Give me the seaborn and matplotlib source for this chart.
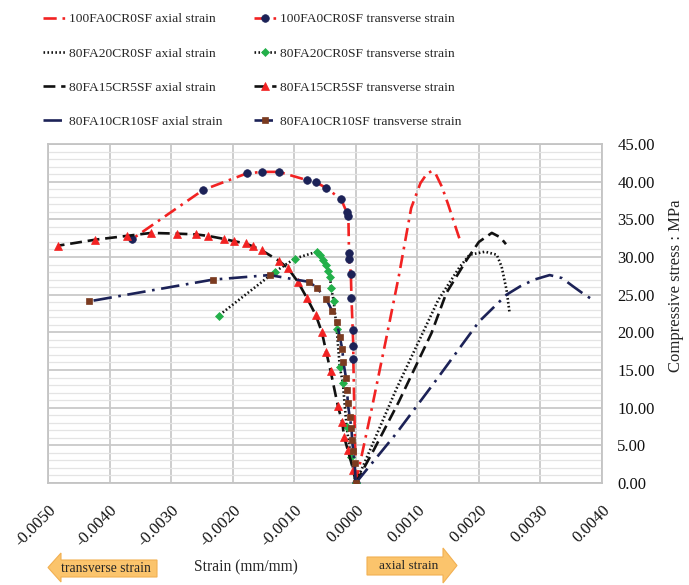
import numpy as np
import pandas as pd
import seaborn as sns
import matplotlib
matplotlib.use("Agg")
import matplotlib.pyplot as plt
from matplotlib.patches import Polygon
from matplotlib.lines import Line2D
from matplotlib.ticker import MultipleLocator, FormatStrFormatter

# ---- stress-strain data (strain in mm/mm, stress in MPa) ----
fa100_axial_strain = [0.0, 0.00025, 0.0005, 0.0007, 0.0009, 0.00105, 0.00115, 0.00123, 0.0013, 0.0014, 0.0015, 0.0016, 0.00169]
fa100_axial_stress = [0.0, 9.5, 19.4, 27.5, 36.5, 39.8, 41.0, 41.4, 41.0, 39.3, 37.0, 34.5, 32.3]

fa100_trans_strain = [0.0, -0.00004, -0.00004, -0.00005, -0.00007, -0.00008, -0.00011, -0.00011, -0.00012, -0.00015, -0.00024, -0.00049, -0.00064, -0.00079, -0.00125, -0.00152, -0.00177, -0.00248, -0.00363]
fa100_trans_stress = [0.0, 16.5, 18.2, 20.3, 24.6, 27.8, 29.7, 30.5, 35.4, 36.0, 37.7, 39.2, 39.9, 40.2, 41.3, 41.3, 41.1, 38.9, 32.4]

fa80cr20_axial_strain = [0.0, 0.00066, 0.00134, 0.00169, 0.00185, 0.0021, 0.00229, 0.00237, 0.00245, 0.0025]
fa80cr20_axial_stress = [0.0, 12.5, 24.3, 28.7, 30.3, 30.7, 30.3, 28.7, 25.6, 22.5]

fa80cr20_trans_strain = [0.0, -0.00008, -0.00015, -0.00021, -0.00026, -0.00031, -0.00036, -0.0004, -0.00042, -0.00045, -0.00049, -0.00053, -0.00058, -0.00063, -0.00099, -0.00132, -0.00223]
fa80cr20_trans_stress = [0.0, 3.5, 7.5, 13.3, 15.4, 20.5, 24.2, 25.9, 27.4, 28.2, 29.0, 29.6, 30.3, 30.7, 29.8, 28.0, 22.2]

fa80cr15_axial_strain = [0.0, 0.0003, 0.0007, 0.00123, 0.00147, 0.0018, 0.002, 0.00221, 0.00235, 0.00244]
fa80cr15_axial_stress = [0.0, 4.5, 10.8, 19.9, 25.2, 29.6, 32.0, 33.2, 32.6, 31.7]

fa80cr15_trans_strain = [0.0, -0.00004, -0.00013, -0.00019, -0.00022, -0.00029, -0.00041, -0.00048, -0.00055, -0.00065, -0.00079, -0.00094, -0.0011, -0.00125, -0.00153, -0.00167, -0.00179, -0.00198, -0.00214, -0.0024, -0.0026, -0.0029, -0.00332, -0.00372, -0.00423, -0.00484]
fa80cr15_trans_stress = [0.0, 1.7, 4.4, 6.1, 8.1, 10.2, 14.9, 17.4, 20.0, 22.3, 24.5, 26.7, 28.5, 29.5, 30.9, 31.4, 31.8, 32.1, 32.4, 32.8, 33.0, 33.1, 33.2, 32.8, 32.3, 31.5]

fa80cr10_axial_strain = [0.0, 0.00066, 0.00131, 0.002, 0.00245, 0.00267, 0.0029, 0.00315, 0.00335, 0.00353, 0.0037, 0.00389]
fa80cr10_axial_stress = [0.0, 6.6, 13.7, 21.4, 25.0, 26.1, 27.0, 27.6, 27.2, 26.1, 25.1, 24.1]

fa80cr10_trans_strain = [0.0, -0.00002, -0.00004, -0.00006, -0.00007, -0.0001, -0.00013, -0.00014, -0.00016, -0.0002, -0.00022, -0.00026, -0.00031, -0.00038, -0.00048, -0.00063, -0.00076, -0.0014, -0.00232, -0.00434]
fa80cr10_trans_stress = [0.0, 2.7, 4.2, 5.7, 7.3, 8.8, 10.6, 12.4, 14.0, 16.0, 17.8, 19.4, 21.4, 22.8, 24.4, 25.9, 26.7, 27.6, 27.0, 24.1]

x_ticks = [-0.005, -0.004, -0.003, -0.002, -0.001, 0.0, 0.001, 0.002, 0.003, 0.004]
y_ticks = [0, 5, 10, 15, 20, 25, 30, 35, 40, 45]

RED = "#f22222"
NAVY = "#1c2257"
GREEN = "#23b04a"
BROWN = "#7b3b20"
BLACK = "#111111"

dash_dot = (0, (5, 2.2, 1, 2.2))
dashed = (0, (4.5, 2.2))
dotted = (0, (0.6, 0.9))
long_dash_dot = (0, (7, 2.5, 1, 2.5))

series = [
    ("100FA0CR0SF axial strain", fa100_axial_strain, fa100_axial_stress, RED, dash_dot, None, None),
    ("80FA20CR0SF axial strain", fa80cr20_axial_strain, fa80cr20_axial_stress, BLACK, dotted, None, None),
    ("80FA15CR5SF axial strain", fa80cr15_axial_strain, fa80cr15_axial_stress, BLACK, dashed, None, None),
    ("80FA10CR10SF axial strain", fa80cr10_axial_strain, fa80cr10_axial_stress, NAVY, long_dash_dot, None, None),
    ("100FA0CR0SF transverse strain", fa100_trans_strain, fa100_trans_stress, RED, dash_dot, "o", NAVY),
    ("80FA20CR0SF transverse strain", fa80cr20_trans_strain, fa80cr20_trans_stress, BLACK, dotted, "D", GREEN),
    ("80FA15CR5SF transverse strain", fa80cr15_trans_strain, fa80cr15_trans_stress, BLACK, dashed, "^", RED),
    ("80FA10CR10SF transverse strain", fa80cr10_trans_strain, fa80cr10_trans_stress, NAVY, long_dash_dot, "s", BROWN),
]
marker_sizes = {"o": 5.5, "D": 3.8, "^": 5.2, "s": 5.0}

sns.set_theme(style="white")
plt.rcParams["font.family"] = ["Liberation Serif", "DejaVu Serif"]

W, H = 689, 585
fig = plt.figure(figsize=(W / 100, H / 100), dpi=100)
ax = fig.add_axes([48 / W, 1 - 483 / H, (602 - 48) / W, (483 - 144) / H])

handles = []
for label, xs, ys, color, ls, marker, mcolor in series:
    df = pd.DataFrame({"strain": xs, "stress": ys})
    kw = dict(color=color, linestyle=ls, linewidth=1.9)
    if marker:
        kw.update(marker=marker, markersize=marker_sizes[marker],
                  markerfacecolor=mcolor, markeredgecolor=mcolor, markeredgewidth=0.5)
    sns.lineplot(data=df, x="strain", y="stress", sort=False, estimator=None,
                 ax=ax, legend=False, zorder=3, **kw)
    handles.append(Line2D([], [], label=label, **kw))

ax.set_xlim(-0.005, 0.004)
ax.set_ylim(0, 45)
ax.set_xticks(x_ticks)
ax.set_yticks(y_ticks)
ax.yaxis.set_minor_locator(MultipleLocator(1))
ax.xaxis.set_major_formatter(FormatStrFormatter("%.4f"))
ax.yaxis.set_major_formatter(FormatStrFormatter("%.2f"))
ax.yaxis.tick_right()
ax.tick_params(axis="both", which="both", length=0, labelsize=12, colors="#111111")
ax.tick_params(axis="y", pad=11)
ax.tick_params(axis="x", pad=14)
for lab in ax.get_xticklabels():
    lab.set_rotation(45)
    lab.set_ha("right")
    lab.set_va("top")
    lab.set_rotation_mode("anchor")

ax.grid(True, which="major", axis="both", color="#c9c9c9", linewidth=1.3)
ax.grid(True, which="minor", axis="y", color="#e4e4e4", linewidth=0.9)
ax.set_axisbelow(True)
for sp in ax.spines.values():
    sp.set_color("#c4c4c4")
    sp.set_linewidth(1.3)
ax.set_xlabel("")
ax.set_ylabel("")

fig.text(676 / W, 1 - 286 / H, "Compressive stress : MPa", rotation=90,
         ha="center", va="center", fontsize=12)
fig.text(246 / W, 1 - 567 / H, "Strain (mm/mm)", ha="center", va="center", fontsize=11.2)

fig.legend(handles=handles, ncol=2, loc="upper left", frameon=False,
           bbox_to_anchor=(43 / W, 1 - 13 / H), fontsize=9.7, borderpad=0, borderaxespad=0,
           handlelength=1.6, handletextpad=0.3, columnspacing=2.4, labelspacing=1.62)


def fig_poly(pts, **kw):
    xy = [(px / W, 1 - py / H) for px, py in pts]
    fig.patches.append(Polygon(xy, closed=True, transform=fig.transFigure, **kw))


arrow_face = "#fbc46c"
arrow_edge = "#f2b052"
fig_poly([(48, 567.5), (61, 553), (61, 560), (157, 560), (157, 577), (61, 577), (61, 582)],
         facecolor=arrow_face, edgecolor=arrow_edge, linewidth=0.8)
fig_poly([(367, 557), (443, 557), (443, 548), (457, 565.5), (443, 583), (443, 575), (367, 575)],
         facecolor=arrow_face, edgecolor=arrow_edge, linewidth=0.8)
fig.text(106 / W, 1 - 569 / H, "transverse strain", ha="center", va="center", fontsize=9.8)
fig.text(409 / W, 1 - 566 / H, "axial strain", ha="center", va="center", fontsize=9.6)

fig.savefig("out.png", dpi=100)
